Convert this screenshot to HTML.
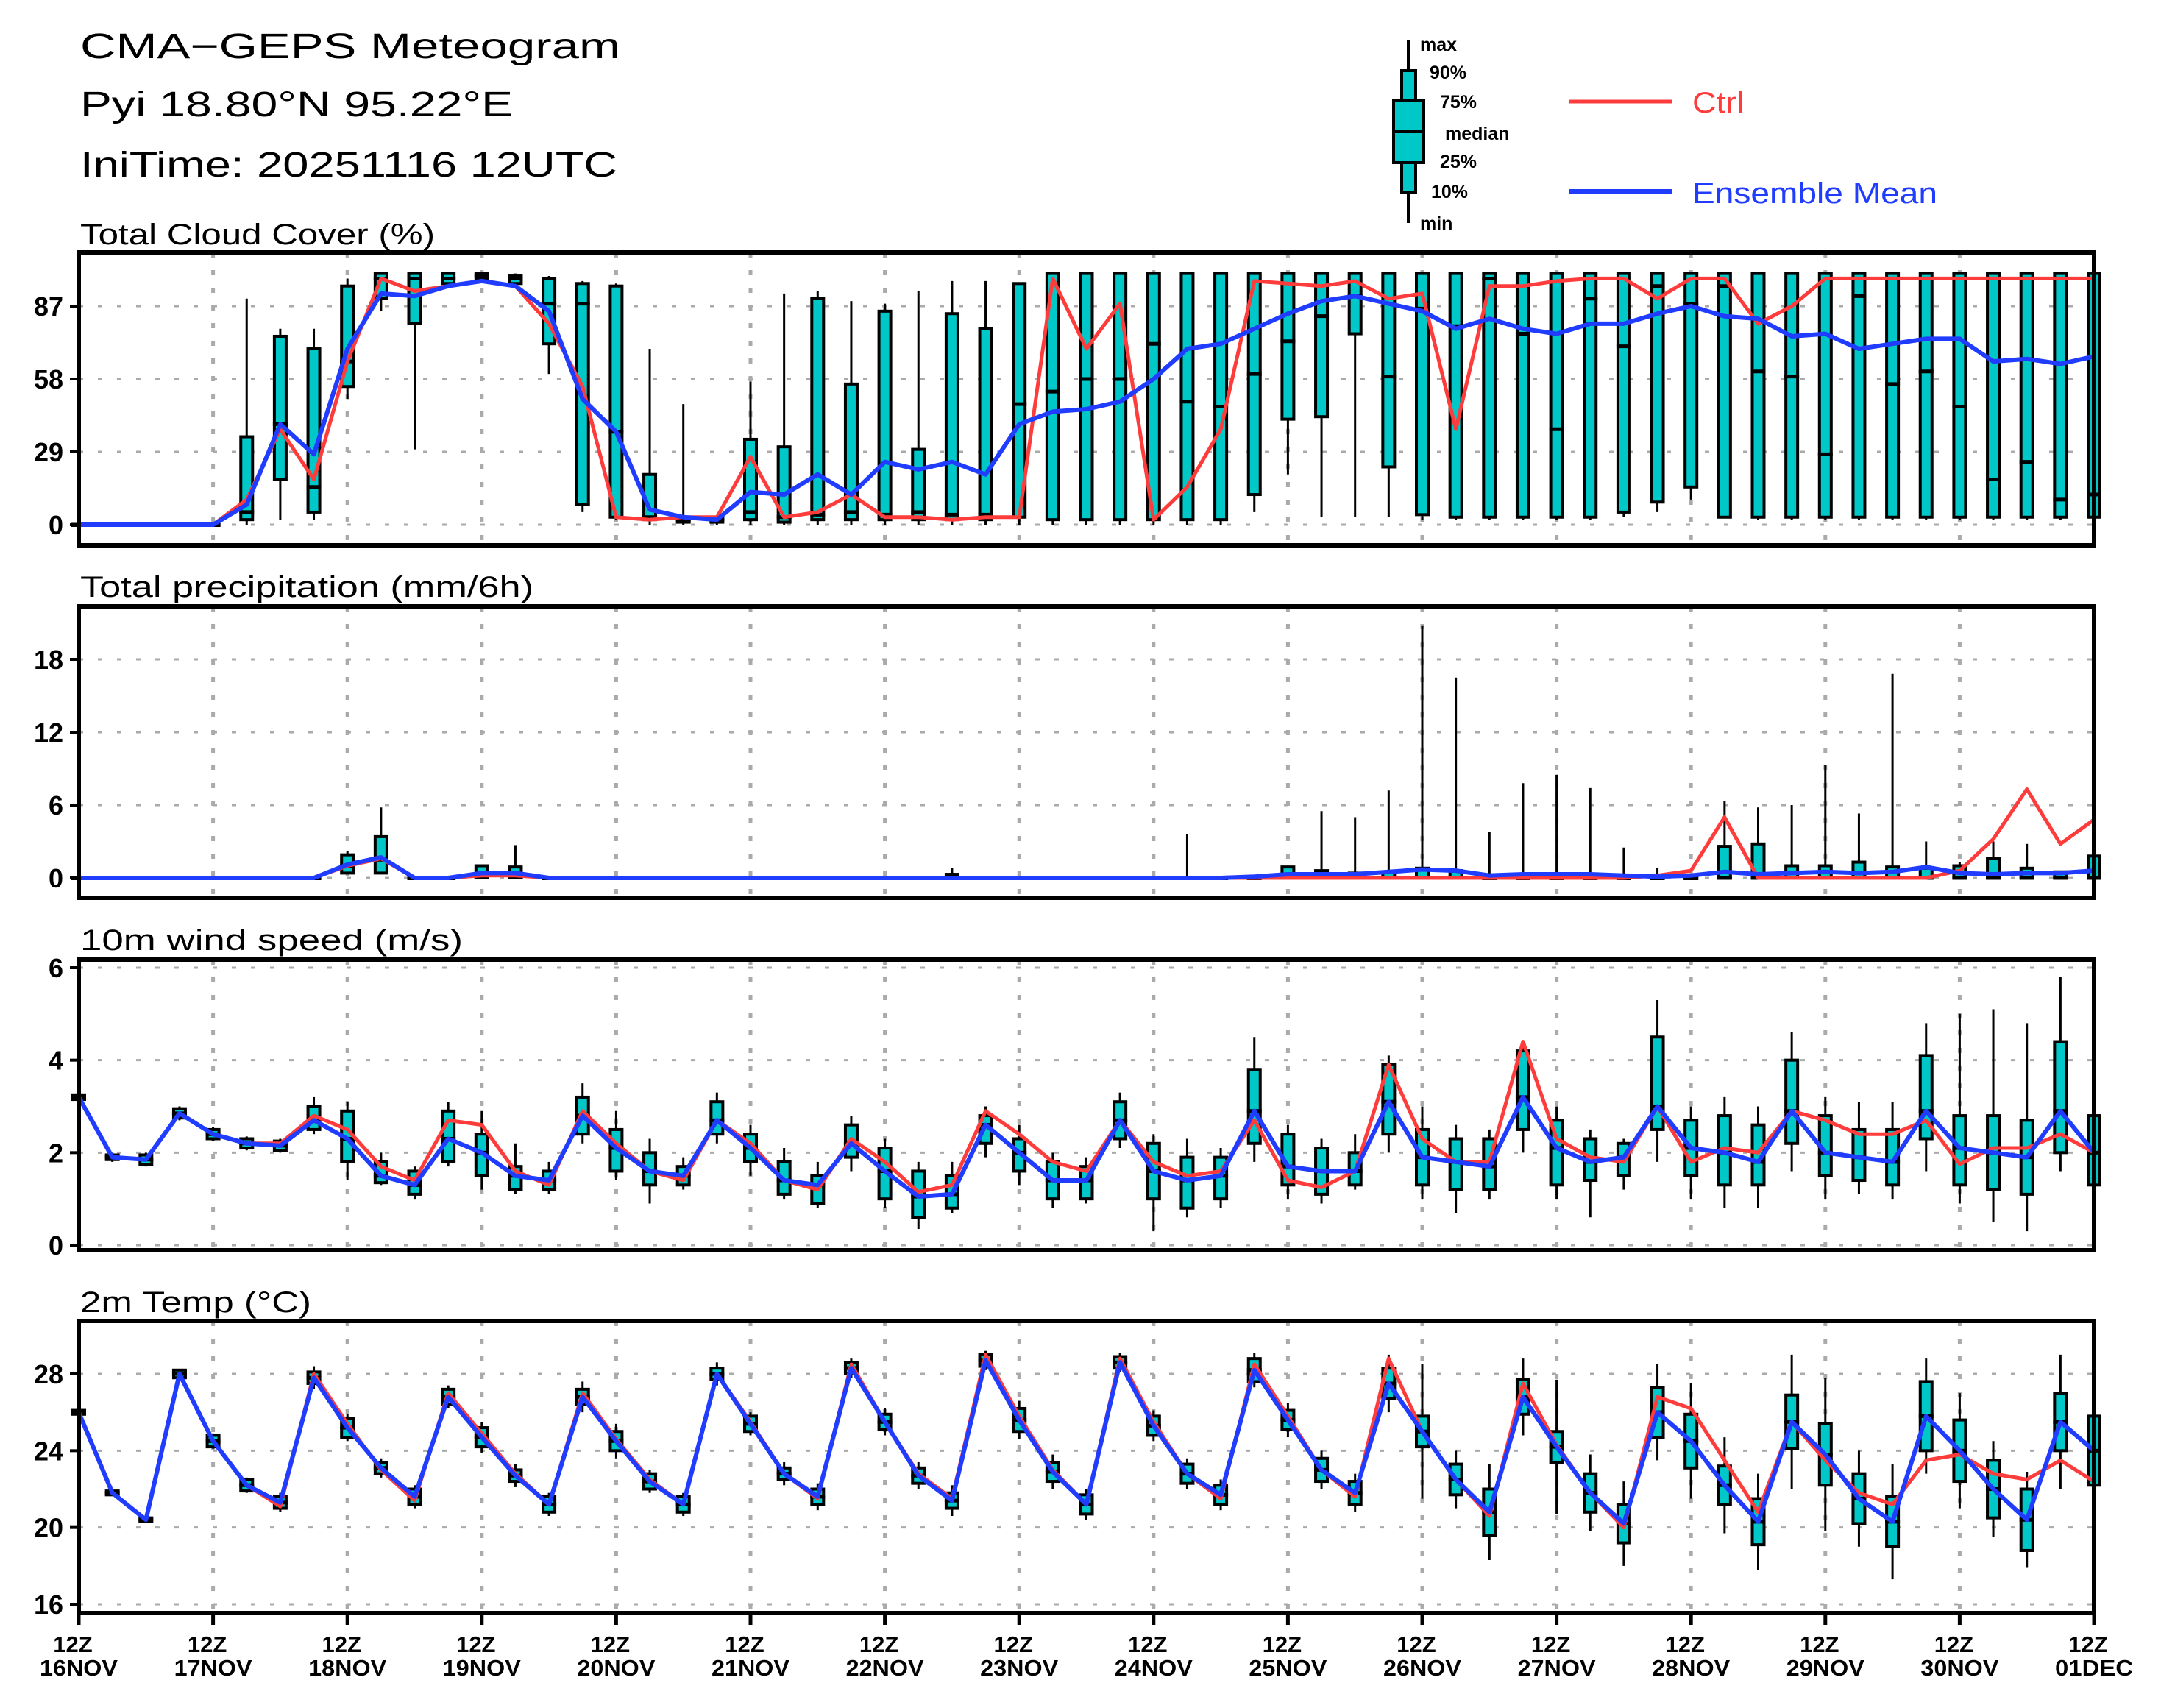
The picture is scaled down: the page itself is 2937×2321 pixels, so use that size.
<!DOCTYPE html>
<html><head><meta charset="utf-8"><title>CMA-GEPS Meteogram</title>
<style>html,body{margin:0;padding:0;background:#fff;}svg{display:block;font-family:"Liberation Sans",sans-serif;}</style>
</head><body>
<svg id="chart" xmlns="http://www.w3.org/2000/svg" width="2937" height="2321" viewBox="0 0 2937 2321">
<rect width="2937" height="2321" fill="#fff"/>
<g>
<text x="109" y="79" font-size="48" textLength="734" lengthAdjust="spacingAndGlyphs">CMA−GEPS Meteogram</text>
<text x="109" y="158" font-size="48" textLength="588" lengthAdjust="spacingAndGlyphs">Pyi 18.80°N 95.22°E</text>
<text x="109" y="240" font-size="48" textLength="730" lengthAdjust="spacingAndGlyphs">IniTime: 20251116 12UTC</text>
</g>
<g>
<line x1="1914" y1="55" x2="1914" y2="303" stroke="#000" stroke-width="4"/>
<rect x="1905" y="96" width="19" height="166" fill="#00c8c8" stroke="#000" stroke-width="4"/>
<rect x="1894" y="137" width="41" height="84" fill="#00c8c8" stroke="#000" stroke-width="4"/>
<line x1="1894" y1="179" x2="1935" y2="179" stroke="#000" stroke-width="4"/>
<g font-size="25" font-weight="bold">
<text x="1930" y="69">max</text>
<text x="1943" y="107">90%</text>
<text x="1957" y="147">75%</text>
<text x="1964" y="190">median</text>
<text x="1957" y="228">25%</text>
<text x="1945" y="269">10%</text>
<text x="1930" y="312">min</text>
</g>
<line x1="2132" y1="138" x2="2272" y2="138" stroke="#ff3c3c" stroke-width="5"/>
<text x="2300" y="153" font-size="40" fill="#ff3c3c" textLength="70" lengthAdjust="spacingAndGlyphs">Ctrl</text>
<line x1="2132" y1="260" x2="2272" y2="260" stroke="#1f3cff" stroke-width="6"/>
<text x="2300" y="276" font-size="40" fill="#1f3cff" textLength="333" lengthAdjust="spacingAndGlyphs">Ensemble Mean</text>
</g>
<g id="panels"></g>
</svg>
<script>
// ---- data (61 steps, 6-hourly from 12Z 16NOV to 12Z 01DEC) ----
const dayLabels = ["16NOV","17NOV","18NOV","19NOV","20NOV","21NOV","22NOV","23NOV","24NOV","25NOV","26NOV","27NOV","28NOV","29NOV","30NOV","01DEC"];
const cloudTicks = [0,29,58,87];
const precipTicks = [0,6,12,18];
const windTicks = [0,2,4,6];
const tempTicks = [16,20,24,28];

const cloudCtrl = [0,0,0,0,0,10,38,18,65,98,93,95,97,95,80,55,3,2,3,3,27,3,5,12,3,3,2,3,3,98,70,88,2,15,38,97,96,95,97,90,92,38,95,95,97,98,98,90,98,98,80,87,98,98,98,98,98,98,98,98,98];
const cloudMean = [0,0,0,0,0,8,40,28,70,92,91,95,97,95,85,50,37,6,3,2,13,12,20,12,25,22,25,20,40,45,46,49,58,70,72,78,84,89,91,88,85,78,82,78,76,80,80,84,87,83,82,75,76,70,72,74,74,65,66,64,67];
const cloudMin = [0,0,0,0,0,0,2,2,50,85,30,95,97,95,60,5,2,0,0,0,0,0,0,0,0,0,0,0,0,0,0,0,0,0,0,5,20,3,3,3,2,2,2,2,2,2,3,5,10,3,2,2,2,2,2,2,2,2,2,2,2];
const cloudP10 = [0,0,0,0,0,2,18,5,55,90,80,96,98,96,72,8,3,2,1,1,2,1,2,2,2,2,2,2,3,2,2,2,2,2,2,12,42,43,76,23,4,3,3,3,3,3,5,9,15,3,3,3,3,3,3,3,3,3,3,3,3];
const cloudMed = [0,0,0,0,0,5,40,15,65,98,98,98,99,98,88,88,37,3,2,2,5,3,4,5,4,5,4,4,48,53,58,58,72,49,47,60,73,83,91,59,86,79,98,76,38,90,71,95,88,95,61,59,28,91,56,61,47,18,25,10,12];
const cloudP90 = [0,0,0,0,0,35,75,70,95,100,100,100,100,99,98,96,95,20,3,3,34,31,90,56,85,30,84,78,96,100,100,100,100,100,100,100,100,100,100,100,100,100,100,100,100,100,100,100,100,100,100,100,100,100,100,100,100,100,100,100,100];
const cloudMax = [0,0,0,0,0,90,78,78,98,100,100,100,100,100,99,97,96,70,48,3,57,92,93,89,88,93,97,97,96,100,100,100,100,100,100,100,100,100,100,100,100,100,100,100,100,100,100,100,100,100,100,100,100,100,100,100,100,100,100,100,100];

const precipCtrl = [0,0,0,0,0,0,0,0,1.0,1.6,0,0,0.2,0.2,0,0,0,0,0,0,0,0,0,0,0,0,0,0,0,0,0,0,0,0,0,0,0,0,0,0,0,0,0,0,0,0,0,0.2,0.6,5.0,0,0,0,0,0,0,0.6,3.2,7.3,2.8,4.8];
const precipMean = [0,0,0,0,0,0,0,0,1.1,1.7,0,0,0.4,0.4,0,0,0,0,0,0,0,0,0,0,0,0,0,0,0,0,0,0,0,0,0,0.1,0.3,0.3,0.3,0.5,0.7,0.6,0.2,0.3,0.3,0.3,0.2,0.1,0.2,0.5,0.3,0.4,0.5,0.4,0.5,0.9,0.4,0.3,0.4,0.4,0.6];
const precipP10 = [0,0,0,0,0,0,0,0,0.4,0.4,0,0,0,0,0,0,0,0,0,0,0,0,0,0,0,0,0,0,0,0,0,0,0,0,0,0,0,0,0,0,0,0,0,0,0,0,0,0,0,0,0,0,0,0,0,0,0,0,0,0,0];
const precipMed = [0,0,0,0,0,0,0,0,1.0,1.5,0,0,0.1,0.1,0,0,0,0,0,0,0,0,0,0,0,0,0,0,0,0,0,0,0,0,0,0,0,0,0,0,0,0,0,0,0,0,0,0,0,0,0,0,0,0,0,0,0,0,0,0,0];
const precipP90 = [0,0,0,0,0,0,0,0,1.9,3.4,0,0,1.0,0.9,0,0,0,0,0,0,0,0,0,0,0,0,0.3,0,0,0,0,0,0,0,0,0,0.9,0.6,0.4,0.5,0.8,0.6,0,0,0,0,0,0,0,2.6,2.8,1.0,1.0,1.3,0.9,0.8,1.0,1.6,0.8,0.5,1.8];
const precipMax = [0,0,0,0,0,0,0,0,2.2,5.8,0,0,1.1,2.7,0,0,0,0,0,0,0,0,0,0,0,0,0.8,0,0,0,0,0,0,3.6,0,0,0,5.5,5.0,7.2,20.8,16.5,3.8,7.8,8.5,7.4,2.5,0.8,0,6.3,5.8,6.0,9.3,5.3,16.8,3.0,1.3,3.0,2.8,0.5,1.5];

const windCtrl = [3.2,1.9,1.85,2.85,2.4,2.2,2.2,2.8,2.5,1.7,1.4,2.7,2.6,1.6,1.3,2.9,2.2,1.6,1.4,2.7,2.2,1.4,1.2,2.3,1.8,1.15,1.3,2.9,2.4,1.8,1.6,2.7,1.8,1.5,1.6,2.7,1.4,1.25,1.6,3.9,2.3,1.8,1.8,4.4,2.3,1.9,1.8,3.0,1.8,2.1,2.0,2.9,2.7,2.4,2.4,2.7,1.75,2.1,2.1,2.4,2.0];
const windMean = [3.2,1.9,1.85,2.85,2.4,2.2,2.15,2.7,2.3,1.5,1.3,2.3,2.0,1.5,1.4,2.8,2.1,1.6,1.5,2.7,2.1,1.4,1.3,2.2,1.6,1.05,1.1,2.6,2.0,1.4,1.4,2.7,1.6,1.4,1.5,2.9,1.7,1.6,1.6,3.1,1.9,1.8,1.7,3.2,2.1,1.8,1.9,3.0,2.1,2.0,1.8,2.9,2.0,1.9,1.8,2.9,2.1,2.0,1.9,2.9,2.0];
const windP10 = [3.15,1.85,1.75,2.75,2.3,2.1,2.05,2.5,1.8,1.35,1.1,1.8,1.5,1.2,1.2,2.4,1.6,1.3,1.3,2.4,1.8,1.1,0.9,1.9,1.0,0.6,0.8,2.2,1.6,1.0,1.0,2.3,1.0,0.8,1.0,2.2,1.3,1.1,1.3,2.4,1.3,1.2,1.2,2.5,1.3,1.4,1.5,2.5,1.5,1.3,1.3,2.2,1.5,1.4,1.3,2.3,1.3,1.2,1.1,2.0,1.3];
const windP90 = [3.25,1.95,1.95,2.95,2.5,2.3,2.25,3.0,2.9,1.8,1.6,2.9,2.4,1.7,1.6,3.2,2.5,2.0,1.7,3.1,2.4,1.8,1.5,2.6,2.1,1.6,1.5,2.8,2.3,1.8,1.7,3.1,2.2,1.9,1.9,3.8,2.4,2.1,2.0,3.9,2.5,2.3,2.3,4.2,2.7,2.3,2.2,4.5,2.7,2.8,2.6,4.0,2.8,2.5,2.5,4.1,2.8,2.8,2.7,4.4,2.8];
const windMin = [3.1,1.8,1.7,2.7,2.25,2.05,2.0,2.4,1.4,1.3,1.0,1.7,1.2,1.1,1.1,2.2,1.4,0.9,1.2,2.2,1.5,1.0,0.8,1.6,0.8,0.35,0.7,1.9,1.3,0.8,0.9,2.1,0.3,0.6,0.8,1.8,1.0,0.9,1.2,2.0,1.0,0.7,1.0,2.0,1.0,0.6,1.2,1.8,1.0,0.8,0.8,1.6,1.0,1.1,1.0,1.6,0.9,0.5,0.3,1.6,1.0];
const windMax = [3.3,2.0,2.0,3.0,2.55,2.35,2.3,3.2,3.1,2.0,1.7,3.1,2.9,2.2,1.8,3.5,2.9,2.3,1.9,3.3,2.6,2.1,1.8,2.8,2.3,1.8,1.8,3.0,2.6,2.0,1.9,3.3,2.4,2.3,2.1,4.5,2.6,2.3,2.4,4.1,3.0,2.6,2.5,4.3,3.0,2.5,2.3,5.3,3.0,3.2,3.0,4.6,3.2,3.1,3.1,4.8,5.0,5.1,4.8,5.8,3.0];

const tempCtrl = [26,21.8,20.4,28.0,24.5,22.2,21.1,28.0,25.4,23.0,21.4,27.0,24.9,22.8,21.2,27.0,24.6,22.5,21.2,28.0,25.5,22.8,21.5,28.5,25.5,22.8,21.5,29.0,25.8,23.0,21.2,28.8,25.5,22.8,21.5,28.5,25.8,23.0,21.6,28.8,25.0,22.5,20.6,27.5,24.3,21.8,20.0,26.8,26.2,23.5,20.8,25.5,23.5,21.8,21.2,23.5,23.8,22.8,22.5,23.5,22.4];
const tempMean = [26,21.8,20.4,28,24.5,22.2,21.3,27.8,25.2,23.1,21.6,26.8,24.7,22.7,21.2,26.8,24.5,22.4,21.2,28,25.4,22.8,21.6,28.3,25.5,22.7,21.4,28.7,25.6,22.9,21.2,28.6,25.3,22.8,21.7,28.2,25.6,23.0,21.8,27.5,25.0,22.5,20.8,26.8,24.2,21.8,20.2,26.0,24.5,22.2,20.3,25.5,23.8,21.5,20.3,25.8,24.0,22.0,20.4,25.5,24.0];
const tempBoxHalf = [0.1,0.1,0.1,0.2,0.3,0.3,0.3,0.3,0.5,0.3,0.4,0.4,0.5,0.3,0.4,0.4,0.5,0.4,0.4,0.3,0.4,0.3,0.4,0.3,0.4,0.4,0.4,0.3,0.6,0.5,0.5,0.3,0.5,0.5,0.5,0.6,0.5,0.6,0.6,0.8,0.8,0.8,1.2,0.9,0.8,1.0,1.0,1.3,1.4,1.0,1.2,1.4,1.6,1.3,1.3,1.8,1.6,1.5,1.6,1.5,1.8];
const tempWhiskHalf = [0.1,0.1,0.1,0.2,0.4,0.4,0.5,0.6,0.7,0.5,0.6,0.6,0.8,0.6,0.6,0.8,0.9,0.6,0.6,0.6,0.6,0.6,0.7,0.5,0.7,0.7,0.8,0.5,1.0,0.9,0.8,0.5,0.8,0.8,0.8,0.9,0.9,1.0,1.0,1.5,3.5,1.5,2.5,2.0,3.5,2.0,2.2,2.5,3.0,2.5,2.5,3.5,4.0,2.5,3.0,3.0,3.0,2.5,2.5,3.5,2.5];

// ---- layout ----
const X0 = 107, X1 = 2846, N = 61;
const xAt = i => X0 + i * (X1 - X0) / (N - 1);
const SVGNS = "http://www.w3.org/2000/svg";
const root = document.getElementById('panels');
function mk(tag, attrs, parent) {
  const e = document.createElementNS(SVGNS, tag);
  for (const k in attrs) e.setAttribute(k, attrs[k]);
  (parent || root).appendChild(e);
  return e;
}
function linScale(v0, p0, v1, p1) { return v => p0 + (v - v0) * (p1 - p0) / (v1 - v0); }

function panel(cfg) {
  const g = mk('g', {});
  
  
  const y = linScale(cfg.tickVals[0], cfg.y0, cfg.tickVals[cfg.tickVals.length - 1], cfg.y1);
  const t = mk('text', {x: 109, y: cfg.titleY, 'font-size': 40, textLength: cfg.titleW, lengthAdjust: 'spacingAndGlyphs'}, g);
  t.textContent = cfg.title;
  
  
  cfg.tickVals.forEach((v) => {
    const l = mk('line', {x1: X0, x2: X1, y1: y(v), y2: y(v), stroke: '#aaa', 'stroke-width': 3, 'stroke-dasharray': '6,20'}, g);
    
    
    const tk = mk('line', {x1: X0 - 12, x2: X0, y1: y(v), y2: y(v), stroke: '#000', 'stroke-width': 4}, g);
    
    
    const tl = mk('text', {x: 86, y: y(v) + 13, 'font-size': 36, 'font-weight': 'bold', 'text-anchor': 'end'}, g);
    tl.textContent = String(v);
    
    
  });
  for (let d = 1; d < dayLabels.length - 1; d++) {
    const x = xAt(d * 4);
    const l = mk('line', {x1: x, x2: x, y1: cfg.top, y2: cfg.bot, stroke: '#aaa', 'stroke-width': 5, 'stroke-dasharray': '7,17'}, g);
    
    
  }
  for (let i = 0; i < N; i++) {
    const x = xAt(i);
    const wl = mk('line', {x1: x, x2: x, y1: y(cfg.mn[i]), y2: y(cfg.mx[i]), stroke: '#000', 'stroke-width': 3}, g);
    
    
    const yt = y(cfg.p90[i]), yb = y(cfg.p10[i]);
    const b = mk('rect', {x: x - 8, y: yt, width: 16, height: Math.max(yb - yt, 1), fill: '#00c8c8', stroke: '#000', 'stroke-width': 4}, g);
    
    
    const m = mk('line', {x1: x - 10, x2: x + 10, y1: y(cfg.md[i]), y2: y(cfg.md[i]), stroke: '#000', 'stroke-width': 5}, g);
    
    
  }
  const pts = arr => arr.map((v, i) => xAt(i).toFixed(1) + ',' + y(v).toFixed(1)).join(' ');
  const cl = mk('polyline', {points: pts(cfg.ctrl), fill: 'none', stroke: '#ff3c3c', 'stroke-width': 5, 'stroke-linejoin': 'round'}, g);
  
  
  const ml = mk('polyline', {points: pts(cfg.mean), fill: 'none', stroke: '#1f3cff', 'stroke-width': 6, 'stroke-linejoin': 'round'}, g);
  
  
  const fr = mk('rect', {x: X0, y: cfg.top, width: X1 - X0, height: cfg.bot - cfg.top, fill: 'none', stroke: '#000', 'stroke-width': 6}, g);
  
  
}

panel({name: 'cloud-cover', title: 'Total Cloud Cover (%)', titleY: 332, titleW: 482, top: 343, bot: 741, y0: 713, y1: 416, tickVals: cloudTicks,
  ctrl: cloudCtrl, mean: cloudMean, mn: cloudMin, p10: cloudP10, md: cloudMed, p90: cloudP90, mx: cloudMax});
panel({name: 'precipitation', title: 'Total precipitation (mm/6h)', titleY: 811, titleW: 616, top: 824, bot: 1220, y0: 1193, y1: 896, tickVals: precipTicks,
  ctrl: precipCtrl, mean: precipMean, mn: precipP10, p10: precipP10, md: precipMed, p90: precipP90, mx: precipMax});
panel({name: 'wind-speed', title: '10m wind speed (m/s)', titleY: 1291, titleW: 520, top: 1304, bot: 1699, y0: 1692, y1: 1315, tickVals: windTicks,
  ctrl: windCtrl, mean: windMean, mn: windMin, p10: windP10, md: windMean, p90: windP90, mx: windMax});
const tP10 = tempMean.map((v, i) => v - tempBoxHalf[i]);
const tP90 = tempMean.map((v, i) => v + tempBoxHalf[i]);
const tMin = tempMean.map((v, i) => v - tempWhiskHalf[i]);
const tMax = tempMean.map((v, i) => v + tempWhiskHalf[i]);
panel({name: 'temperature', title: '2m Temp (°C)', titleY: 1783, titleW: 314, top: 1795, bot: 2192, y0: 2180, y1: 1867, tickVals: tempTicks,
  ctrl: tempCtrl, mean: tempMean, mn: tMin, p10: tP10, md: tempMean, p90: tP90, mx: tMax});

const xa = mk('g', {});


dayLabels.forEach((lab, d) => {
  const x = xAt(d * 4);
  const tk = mk('line', {x1: x, x2: x, y1: 2192, y2: 2208, stroke: '#000', 'stroke-width': 5}, xa);
  
  
  const t1 = mk('text', {x: x - 8, y: 2245, 'font-size': 31, 'font-weight': 'bold', 'text-anchor': 'middle'}, xa);
  t1.textContent = '12Z';
  
  
  const t2 = mk('text', {x: x, y: 2277, 'font-size': 31, 'font-weight': 'bold', 'text-anchor': 'middle', textLength: 106, lengthAdjust: 'spacingAndGlyphs'}, xa);
  t2.textContent = lab;
  
  
});
</script>
</body></html>
